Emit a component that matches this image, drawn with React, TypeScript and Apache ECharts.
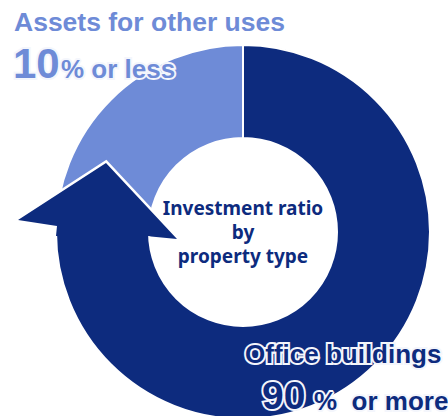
import React, { useEffect, useRef } from "react";
import * as echarts from "echarts";

// Data
const categories = ["Office buildings", "Assets for other uses"];
const ratioFigures = ["90", "10"];
const ratioQualifiers = ["or more", "or less"];
// visual share of the ring drawn for each category
const ringShares = [75, 25];
const centerTitle = ["Investment ratio", "by", "property type"];

const DARK = "#0d2b7e";
const LIGHT = "#6e8bd7";

export default function App() {
  const ref = useRef<HTMLDivElement>(null);

  useEffect(() => {
    if (!ref.current) return;
    const chart = echarts.init(ref.current, undefined, { renderer: "svg" });

    const cx = 243;
    const cy = 232;
    const R = 187;
    const r = 94;
    const font = "'Liberation Sans', Arial, sans-serif";

    // arrow head geometry (relative to ring centre)
    const P = (dx: number, dy: number) => [cx + dx, cy + dy];
    const arrowFill = [
      P(-186, -6),
      P(-225, -12),
      P(-137, -69),
      P(-66, 7),
      P(-92, 4.5),
      P(-94, 4),
      P(-187, 4),
    ];
    const arrowEdge = [P(-225, -12), P(-137, -69), P(-66, 7)];

    const label = (x: number, y: number, text: string, size: number, color: string, halo: boolean) => {
      const base = {
        type: "text",
        silent: true,
        x,
        y,
      };
      const st = {
        text,
        font: `bold ${size}px ${font}`,
        align: "left",
        verticalAlign: "middle",
      };
      const items: any[] = [];
      if (halo) {
        items.push({
          ...base,
          z: 108,
          style: { ...st, fill: "#f4f6fc", stroke: "#f4f6fc", lineWidth: 4, lineJoin: "round" },
        });
      }
      items.push({ ...base, z: 110, style: { ...st, fill: color } });
      return items;
    };

    chart.setOption({
      animation: false,
      series: [
        {
          type: "pie",
          center: [cx, cy],
          radius: [r, R],
          startAngle: 90,
          clockwise: true,
          silent: true,
          label: { show: false },
          labelLine: { show: false },
          emphasis: { disabled: true },
          itemStyle: { borderColor: "#ffffff", borderWidth: 2 },
          data: [
            { name: categories[0], value: ringShares[0], itemStyle: { color: DARK } },
            { name: categories[1], value: ringShares[1], itemStyle: { color: LIGHT } },
          ],
        },
      ],
      graphic: [
        {
          type: "polyline",
          z: 100,
          silent: true,
          shape: { points: arrowEdge },
          style: { stroke: "#ffffff", lineWidth: 5, fill: null, lineJoin: "miter" },
        },
        {
          type: "polygon",
          z: 101,
          silent: true,
          shape: { points: arrowFill },
          style: { fill: DARK, stroke: null },
        },
        {
          type: "text",
          z: 110,
          silent: true,
          x: cx,
          y: cy,
          style: {
            text: centerTitle.join("\n"),
            font: "bold 19px 'Noto Sans', sans-serif",
            fill: DARK,
            align: "center",
            verticalAlign: "middle",
            lineHeight: 24,
          },
        },
        ...label(14, 21.5, categories[1], 26.5, LIGHT, false),
        ...label(13, 63, ratioFigures[1], 42, LIGHT, true),
        ...label(61, 69, "% " + ratioQualifiers[1], 26, LIGHT, true),
        ...label(245, 354, categories[0], 26, DARK, true),
        ...label(262, 395, ratioFigures[0], 39, DARK, true),
        ...label(314, 401, "%  " + ratioQualifiers[0], 26, DARK, true),
      ],
    });

    return () => chart.dispose();
  }, []);

  return (
    <div
      ref={ref}
      style={{ position: "fixed", left: 0, top: 0, width: 448, height: 416, background: "#ffffff" }}
    />
  );
}
